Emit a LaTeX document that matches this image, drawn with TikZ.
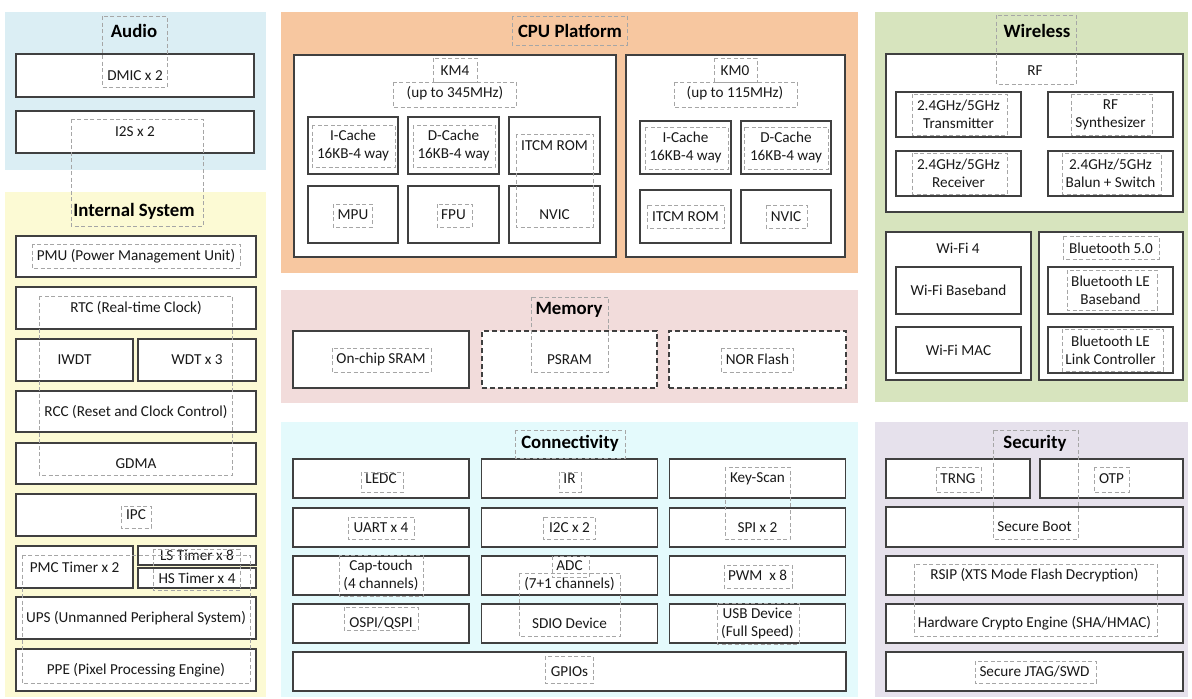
\documentclass[tikz,border=0pt]{standalone}
\usepackage{fontspec}
\setmainfont{Carlito}
\usepackage{tikz}
\definecolor{caudio}{RGB}{219,238,244}
\definecolor{cinternal}{RGB}{252,250,212}
\definecolor{ccpu}{RGB}{247,199,160}
\definecolor{cmemory}{RGB}{242,220,219}
\definecolor{cconn}{RGB}{228,250,252}
\definecolor{cwireless}{RGB}{215,228,190}
\definecolor{csecurity}{RGB}{230,225,236}
\definecolor{cline}{RGB}{64,64,64}

\begin{document}
\begin{tikzpicture}[x=1pt, y=-1pt,
    panel/.style={rectangle, draw=none, inner sep=0},
    block/.style={rectangle, draw=cline, line width=1.1pt, fill=white, inner sep=0, align=center,
      text=black!90, font=\fontsize{15.2}{18}\selectfont},
    label/.style={inner sep=0, text=black!90, font=\fontsize{15.2}{18}\selectfont},
    title/.style={inner sep=0, font=\fontsize{18.8}{21}\selectfont\bfseries},
    textframe/.style={draw=black!35, line width=0.6pt, dash pattern=on 4pt off 2.5pt}]
    \useasboundingbox (0,0) rectangle (1192,699);

    % panels
    \node[panel, fill=caudio, minimum width=261, minimum height=158] (Audio) at (135.5,91) {};
    \node[panel, fill=cinternal, minimum width=261, minimum height=505] (Internal) at (135.5,444.5) {};
    \node[panel, fill=ccpu, minimum width=577, minimum height=261] (Cpu) at (569.5,142.5) {};
    \node[panel, fill=cmemory, minimum width=577, minimum height=113] (Memory) at (569.5,346.5) {};
    \node[panel, fill=cconn, minimum width=577, minimum height=275] (Conn) at (569.5,559.5) {};
    \node[panel, fill=cwireless, minimum width=313, minimum height=390] (Wireless) at (1031.5,207) {};
    \node[panel, fill=csecurity, minimum width=313, minimum height=275] (Security) at (1031.5,559.5) {};

    % audio
    \node[title] (AudioTitle) at (134,31) {Audio};
    \node[block, minimum width=238, minimum height=43] (Dmic) at (135,75.5) {DMIC x 2};
    \node[block, minimum width=238, minimum height=42] (I2s) at (135,132) {I2S x 2};

    % internal system
    \node[title] (InternalTitle) at (134,211) {Internal System};
    \node[block, minimum width=240, minimum height=41] (Pmu) at (136,256.5) {PMU (Power Management Unit)};
    \node[block, minimum width=240, minimum height=42] (Rtc) at (136,308) {RTC (Real-time Clock)};
    \node[block, minimum width=117, minimum height=42] (Iwdt) at (74.5,360) {IWDT};
    \node[block, minimum width=118, minimum height=42] (Wdt) at (197,360) {WDT x 3};
    \node[block, minimum width=240, minimum height=41] (Rcc) at (136,411.5) {RCC (Reset and Clock Control)};
    \node[block, minimum width=240, minimum height=41] (Gdma) at (136,463.5) {GDMA};
    \node[block, minimum width=240, minimum height=42] (Ipc) at (136,515) {IPC};
    \node[block, minimum width=117, minimum height=42] (PmcTimer) at (74.5,567) {PMC Timer x 2};
    \node[block, minimum width=118, minimum height=19] (LsTimer) at (197,555.5) {LS Timer x 8};
    \node[block, minimum width=118, minimum height=20] (HsTimer) at (197,578) {HS Timer x 4};
    \node[block, minimum width=240, minimum height=42] (Ups) at (136,618) {UPS (Unmanned Peripheral System)};
    \node[block, minimum width=240, minimum height=42] (Ppe) at (136,670) {PPE (Pixel Processing Engine)};

    % cpu platform
    \node[title] (CpuTitle) at (570,31) {CPU Platform};
    \node[block, minimum width=322, minimum height=202] (Km4) at (455,156) {};
    \node[label] (Km4Name) at (455,71) {KM4};
    \node[label] (Km4Freq) at (455,93) {(up to 345MHz)};
    \node[block, minimum width=90, minimum height=57] (Km4ICache) at (353,145.5) {I-Cache\\16KB-4 way};
    \node[block, minimum width=91, minimum height=57] (Km4DCache) at (453.5,145.5) {D-Cache\\16KB-4 way};
    \node[block, minimum width=91, minimum height=57] (Km4Itcm) at (554.5,145.5) {ITCM ROM};
    \node[block, minimum width=90, minimum height=57] (Km4Mpu) at (353,214.5) {MPU};
    \node[block, minimum width=91, minimum height=57] (Km4Fpu) at (453.5,214.5) {FPU};
    \node[block, minimum width=91, minimum height=57] (Km4Nvic) at (554.5,214.5) {NVIC};
    \node[block, minimum width=219, minimum height=202] (Km0) at (735.5,156) {};
    \node[label] (Km0Name) at (735,71) {KM0};
    \node[label] (Km0Freq) at (735,93) {(up to 115MHz)};
    \node[block, minimum width=91, minimum height=53] (Km0ICache) at (685.5,147.5) {I-Cache\\16KB-4 way};
    \node[block, minimum width=90, minimum height=53] (Km0DCache) at (786,147.5) {D-Cache\\16KB-4 way};
    \node[block, minimum width=91, minimum height=53] (Km0Itcm) at (685.5,216.5) {ITCM ROM};
    \node[block, minimum width=90, minimum height=53] (Km0Nvic) at (786,216.5) {NVIC};

    % memory
    \node[title] (MemoryTitle) at (569,310) {Memory};
    \node[block, minimum width=176, minimum height=57] (Sram) at (381,359.5) {On-chip SRAM};
    \node[block, dash pattern=on 5pt off 3pt, minimum width=175, minimum height=57] (Psram) at (569.5,359.5) {PSRAM};
    \node[block, dash pattern=on 5pt off 3pt, minimum width=177, minimum height=57] (NorFlash) at (757.5,359.5) {NOR Flash};

    % connectivity
    \node[title] (ConnTitle) at (570,443) {Connectivity};
    \node[block, minimum width=176, minimum height=39] (Ledc) at (381,478.5) {LEDC};
    \node[block, minimum width=176, minimum height=39] (Ir) at (569.5,478.5) {IR};
    \node[block, minimum width=176, minimum height=39] (KeyScan) at (757.5,478.5) {Key-Scan};
    \node[block, minimum width=176, minimum height=39] (Uart) at (381,527.5) {UART x 4};
    \node[block, minimum width=176, minimum height=39] (I2c) at (569.5,527.5) {I2C x 2};
    \node[block, minimum width=176, minimum height=39] (Spi) at (757.5,527.5) {SPI x 2};
    \node[block, minimum width=176, minimum height=39] (CapTouch) at (381,575.5) {Cap-touch\\(4 channels)};
    \node[block, minimum width=176, minimum height=39] (Adc) at (569.5,575.5) {ADC\\(7+1 channels)};
    \node[block, minimum width=176, minimum height=39] (Pwm) at (757.5,575.5) {PWM\ \ x 8};
    \node[block, minimum width=176, minimum height=39] (Ospi) at (381,623.5) {OSPI/QSPI};
    \node[block, minimum width=176, minimum height=39] (Sdio) at (569.5,623.5) {SDIO Device};
    \node[block, minimum width=176, minimum height=39] (Usb) at (757.5,623.5) {USB Device\\(Full Speed)};
    \node[block, minimum width=553, minimum height=39] (Gpio) at (569.5,671.5) {GPIOs};

    % wireless
    \node[title] (WirelessTitle) at (1037,31) {Wireless};
    \node[block, minimum width=297, minimum height=158] (Rf) at (1034.5,133) {};
    \node[label] (RfName) at (1035,71) {RF};
    \node[block, minimum width=125, minimum height=45] (Tx) at (958.5,114.5) {2.4GHz/5GHz\\Transmitter};
    \node[block, minimum width=125, minimum height=45] (Synth) at (1110.5,114.5) {RF\\Synthesizer};
    \node[block, minimum width=125, minimum height=45] (Rx) at (958.5,173.5) {2.4GHz/5GHz\\Receiver};
    \node[block, minimum width=125, minimum height=45] (Balun) at (1110.5,173.5) {2.4GHz/5GHz\\Balun + Switch};
    \node[block, minimum width=145, minimum height=148] (Wifi) at (958.5,306) {};
    \node[label] (WifiName) at (958,248) {Wi-Fi 4};
    \node[block, minimum width=125, minimum height=47] (WifiBb) at (958.5,290.5) {Wi-Fi Baseband};
    \node[block, minimum width=125, minimum height=46] (WifiMac) at (958.5,350) {Wi-Fi MAC};
    \node[block, minimum width=144, minimum height=148] (Bt) at (1111,306) {};
    \node[label] (BtName) at (1111,248) {Bluetooth 5.0};
    \node[block, minimum width=125, minimum height=47] (BleBb) at (1110.5,290.5) {Bluetooth LE\\Baseband};
    \node[block, minimum width=125, minimum height=46] (BleLl) at (1110.5,350) {Bluetooth LE\\Link Controller};

    % security
    \node[title] (SecurityTitle) at (1035,443) {Security};
    \node[block, minimum width=144, minimum height=39] (Trng) at (958,478.5) {TRNG};
    \node[block, minimum width=143, minimum height=39] (Otp) at (1111.5,478.5) {OTP};
    \node[block, minimum width=297, minimum height=40] (SecBoot) at (1034.5,527) {Secure Boot};
    \node[block, minimum width=297, minimum height=39] (Rsip) at (1034.5,575.5) {RSIP (XTS Mode Flash Decryption)};
    \node[block, minimum width=297, minimum height=39] (Crypto) at (1034.5,623.5) {Hardware Crypto Engine (SHA/HMAC)};
    \node[block, minimum width=297, minimum height=39] (Jtag) at (1034.5,671.5) {Secure JTAG/SWD};

    % text frames
    \draw[textframe] (102,16) rectangle (167,87);
    \draw[textframe] (71,119) rectangle (203,226);
    \draw[textframe] (32,244) rectangle (240,268);
    \draw[textframe] (39,296) rectangle (232,475);
    \draw[textframe] (121,506) rectangle (151,528);
    \draw[textframe] (22,555) rectangle (250,683);
    \draw[textframe] (153,549) rectangle (240,590);
    \draw[textframe] (512,16) rectangle (627,45);
    \draw[textframe] (433,58) rectangle (477,82);
    \draw[textframe] (393,82) rectangle (516,107);
    \draw[textframe] (312,125) rectangle (395,167);
    \draw[textframe] (413,125) rectangle (495,167);
    \draw[textframe] (516,134) rectangle (593,227);
    \draw[textframe] (333,204) rectangle (372,227);
    \draw[textframe] (437,204) rectangle (472,227);
    \draw[textframe] (714,58) rectangle (757,82);
    \draw[textframe] (674,82) rectangle (797,107);
    \draw[textframe] (645,127) rectangle (728,169);
    \draw[textframe] (744,127) rectangle (828,169);
    \draw[textframe] (647,205) rectangle (724,228);
    \draw[textframe] (766,205) rectangle (807,228);
    \draw[textframe] (996,15) rectangle (1076,84);
    \draw[textframe] (912,94) rectangle (1007,135);
    \draw[textframe] (1071,94) rectangle (1152,135);
    \draw[textframe] (912,153) rectangle (1007,194);
    \draw[textframe] (1062,153) rectangle (1161,194);
    \draw[textframe] (1063,236) rectangle (1159,259);
    \draw[textframe] (1067,270) rectangle (1157,310);
    \draw[textframe] (1062,329) rectangle (1163,371);
    \draw[textframe] (531,297) rectangle (608,372);
    \draw[textframe] (332,348) rectangle (431,372);
    \draw[textframe] (721,348) rectangle (793,372);
    \draw[textframe] (515,430) rectangle (625,458);
    \draw[textframe] (361,472) rectangle (403,492);
    \draw[textframe] (559,472) rectangle (581,492);
    \draw[textframe] (725,467) rectangle (790,539);
    \draw[textframe] (348,517) rectangle (414,539);
    \draw[textframe] (543,517) rectangle (595,539);
    \draw[textframe] (339,555) rectangle (423,596);
    \draw[textframe] (552,556) rectangle (589,577);
    \draw[textframe] (519,573) rectangle (620,636);
    \draw[textframe] (724,565) rectangle (792,588);
    \draw[textframe] (344,607) rectangle (418,630);
    \draw[textframe] (717,603) rectangle (799,644);
    \draw[textframe] (545,656) rectangle (593,683);
    \draw[textframe] (993,430) rectangle (1078,539);
    \draw[textframe] (936,467) rectangle (981,492);
    \draw[textframe] (1094,467) rectangle (1129,492);
    \draw[textframe] (914,564) rectangle (1157,636);
    \draw[textframe] (975,661) rectangle (1096,683);
\end{tikzpicture}
\end{document}
